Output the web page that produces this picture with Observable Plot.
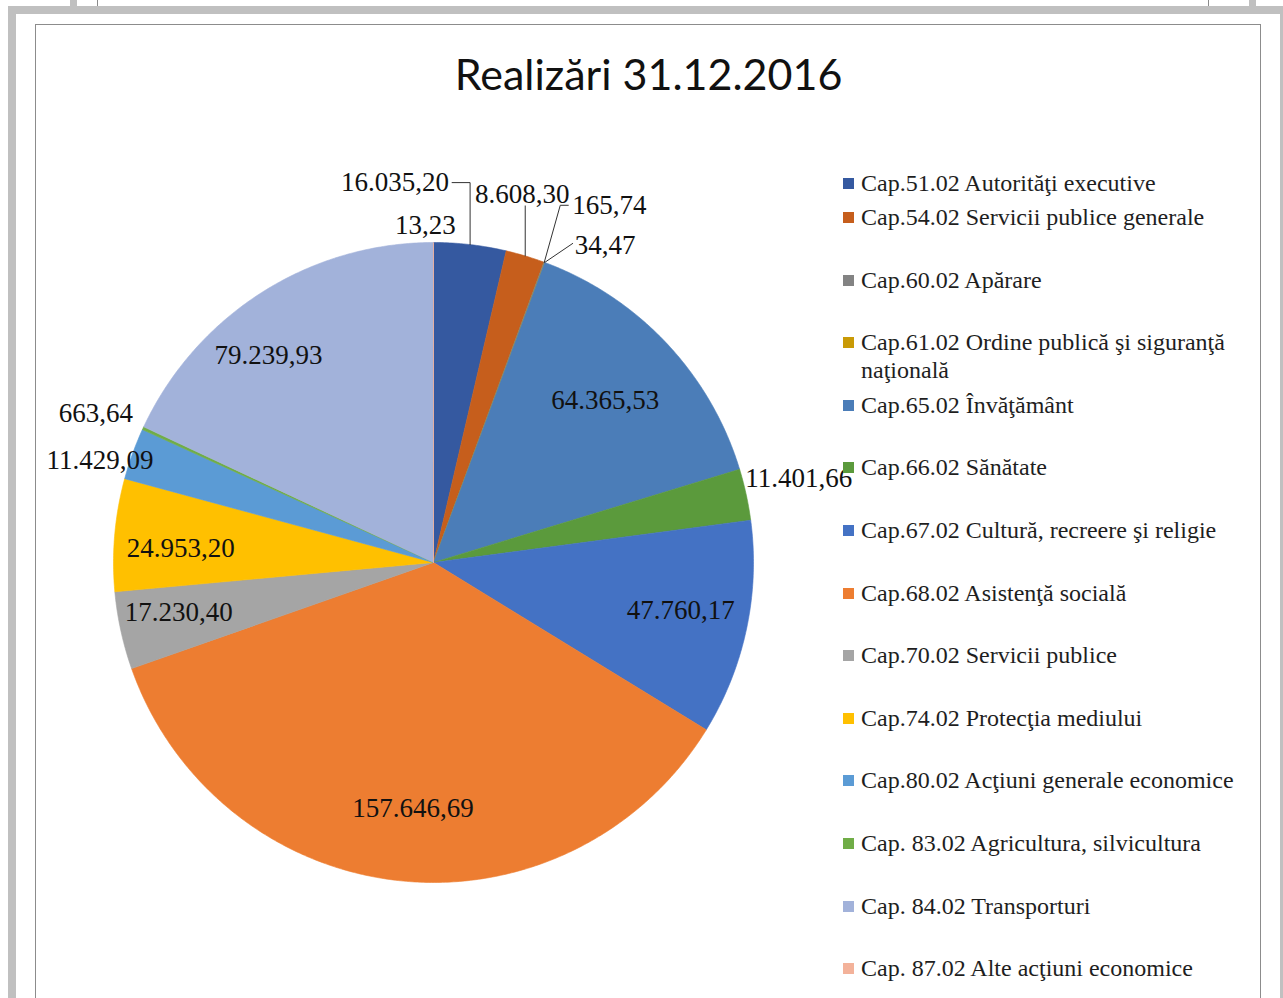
<!DOCTYPE html>
<html>
<head>
<meta charset="utf-8">
<script src="https://cdn.jsdelivr.net/npm/d3@7"></script>
<script src="https://cdn.jsdelivr.net/npm/@observablehq/plot@0.6"></script>
<style>
  html, body { margin: 0; padding: 0; background: #fff; overflow: hidden; }
  #page { position: relative; width: 1283px; height: 998px; overflow: hidden; background: #fff; }
  .bar { position: absolute; background: #c0c0c0; }
  .thin { position: absolute; background: #8a8a8a; }
  #frame { position: absolute; left: 35px; top: 24px; width: 1224px; height: 990px;
           border-top: 1.5px solid #8c8c8c; border-left: 1.5px solid #8c8c8c; border-right: 1.5px solid #8c8c8c; }
  #title { position: absolute; left: 0; top: 52px; width: 1297px; text-align: center;
           font-family: Lato, "Open Sans", sans-serif; font-size: 43px; line-height: 43px; color: #111; white-space: nowrap; }
  #chart { position: absolute; left: 0; top: 0; }
  .item { position: absolute; left: 843px; width: 400px; font-family: "Liberation Serif", serif;
          font-size: 24px; line-height: 28px; color: #1e1e1e; }
  .sw { position: absolute; left: 0; top: 9px; width: 11px; height: 11px; }
  .txt { display: block; margin-left: 18px; width: 380px; }
</style>
</head>
<body>
<div id="page">
  <div class="bar" style="left:70px;top:0;width:7px;height:6px"></div>
  <div class="thin" style="left:97px;top:0;width:1px;height:6px"></div>
  <div class="thin" style="left:1208px;top:0;width:1px;height:6px"></div>
  <div class="bar" style="left:1249px;top:0;width:7px;height:6px"></div>
  <div class="bar" style="left:8px;top:6px;width:1275px;height:8px"></div>
  <div class="bar" style="left:8px;top:6px;width:8px;height:992px"></div>
  <div class="bar" style="left:1280px;top:6px;width:3px;height:992px"></div>
  <div id="frame"></div>
  <div id="title"></div>
  <div id="chart"></div>
  <div id="legend"></div>
</div>
<script>
// ---------------- data ----------------
const title = "Realizări 31.12.2016";
const categories = [
  "Cap.51.02 Autorităţi executive",
  "Cap.54.02 Servicii publice generale",
  "Cap.60.02 Apărare",
  "Cap.61.02 Ordine publică şi siguranţă naţională",
  "Cap.65.02 Învăţământ",
  "Cap.66.02 Sănătate",
  "Cap.67.02 Cultură, recreere şi religie",
  "Cap.68.02 Asistenţă socială",
  "Cap.70.02 Servicii publice",
  "Cap.74.02 Protecţia mediului",
  "Cap.80.02 Acţiuni generale economice",
  "Cap. 83.02 Agricultura, silvicultura",
  "Cap. 84.02 Transporturi",
  "Cap. 87.02 Alte acţiuni economice"
];
const values = [16035.20, 8608.30, 165.74, 34.47, 64365.53, 11401.66, 47760.17,
                157646.69, 17230.40, 24953.20, 11429.09, 663.64, 79239.93, 13.23];
const colors = ["#3559A0", "#C65E1C", "#838383", "#C99A06", "#4B7DB8", "#5B9A3C", "#4472C4",
                "#ED7D31", "#A5A5A5", "#FFC000", "#5B9BD5", "#70AD47", "#A2B2DA", "#F3B29A"];

// ---------------- layout ----------------
const W = 1283, H = 998;
const R = 320, CX = 433, CY = 562;   // pie centre / radius in pixels
const fmt = d3.formatLocale({decimal: ",", thousands: ".", grouping: [3]}).format(",.2f");

// label placement rules (pixel nudges relative to the slice's mid-angle point)
const labelRules = [
  {r: 1, leader: [[0, 0], [0, -62], [-18, -62]], at: [-21, -62], anchor: "end"},
  {r: 1, leader: [[0, 0], [0, -50]], at: [-3, -62], anchor: "middle"},
  {r: 1, leader: [[0, 0], [16, -57], [24, -57]], at: [28, -57], anchor: "start"},
  {r: 1, leader: [[0, 0], [28, -19]], at: [30, -17], anchor: "start"},
  {r: 0.78, at: [-10, 9], anchor: "middle"},
  {r: 1, at: [-1, -16], anchor: "start"},
  {r: 0.78, at: [3, -4], anchor: "middle"},
  {r: 0.78, at: [6, -2], anchor: "middle"},
  {r: 0.78, at: [-11, -3], anchor: "middle"},
  {r: 0.78, at: [-4, 7], anchor: "middle"},
  {r: 1, at: [21, 7], anchor: "end"},
  {r: 1, at: [-10, -15], anchor: "end"},
  {r: 0.78, at: [-31, 3], anchor: "middle"},
  {r: 1, at: [-8, -17], anchor: "middle"}
];

document.getElementById("title").textContent = title;

const arcs = d3.pie().sort(null).value(d => d)(values);

// slice polygons in unit-circle coordinates
const slicePts = [];
arcs.forEach((a, i) => {
  const k = categories[i];
  slicePts.push({k, x: 0, y: 0});
  const n = Math.max(2, Math.ceil((a.endAngle - a.startAngle) / (Math.PI / 360)));
  for (let j = 0; j <= n; j++) {
    const t = a.startAngle + (a.endAngle - a.startAngle) * j / n;
    slicePts.push({k, x: Math.sin(t), y: Math.cos(t)});
  }
  slicePts.push({k, x: 0, y: 0});
});

const labels = [];
const leaders = [];
arcs.forEach((a, i) => {
  const m = (a.startAngle + a.endAngle) / 2;
  const rule = labelRules[i];
  const ex = rule.r * Math.sin(m), ey = rule.r * Math.cos(m);
  labels.push({
    text: fmt(values[i]),
    x: ex + rule.at[0] / R,
    y: ey - rule.at[1] / R,
    anchor: rule.anchor
  });
  if (rule.leader) {
    rule.leader.forEach(p => leaders.push({k: i, x: ex + p[0] / R, y: ey - p[1] / R}));
  }
});

const textOpts = {fontFamily: "Liberation Serif, serif", fontSize: 27, fill: "#111", lineAnchor: "middle"};

const plot = Plot.plot({
  width: W, height: H,
  margin: 0,
  style: {background: "transparent", overflow: "visible"},
  x: {domain: [-CX / R, (W - CX) / R], axis: null},
  y: {domain: [-(H - CY) / R, CY / R], axis: null},
  color: {domain: categories, range: colors},
  marks: [
    Plot.line(slicePts, {x: "x", y: "y", z: "k", fill: "k", stroke: "k", strokeWidth: 0.6, curve: "linear"}),
    Plot.line(leaders, {x: "x", y: "y", z: "k", stroke: "#333", strokeWidth: 1, curve: "linear"}),
    Plot.text(labels.filter(d => d.anchor === "middle"), {x: "x", y: "y", text: "text", textAnchor: "middle", ...textOpts}),
    Plot.text(labels.filter(d => d.anchor === "start"), {x: "x", y: "y", text: "text", textAnchor: "start", ...textOpts}),
    Plot.text(labels.filter(d => d.anchor === "end"), {x: "x", y: "y", text: "text", textAnchor: "end", ...textOpts})
  ]
});
document.getElementById("chart").appendChild(plot);

// legend
const legend = document.getElementById("legend");
categories.forEach((c, i) => {
  const centerY = i === 0 ? 183 : 217 + (i - 1) * 62.6;
  const item = document.createElement("div");
  item.className = "item";
  item.style.top = (centerY - 14) + "px";
  const sw = document.createElement("span");
  sw.className = "sw";
  sw.style.background = colors[i];
  const tx = document.createElement("span");
  tx.className = "txt";
  tx.textContent = c;
  item.appendChild(sw);
  item.appendChild(tx);
  legend.appendChild(item);
});
</script>
</body>
</html>
